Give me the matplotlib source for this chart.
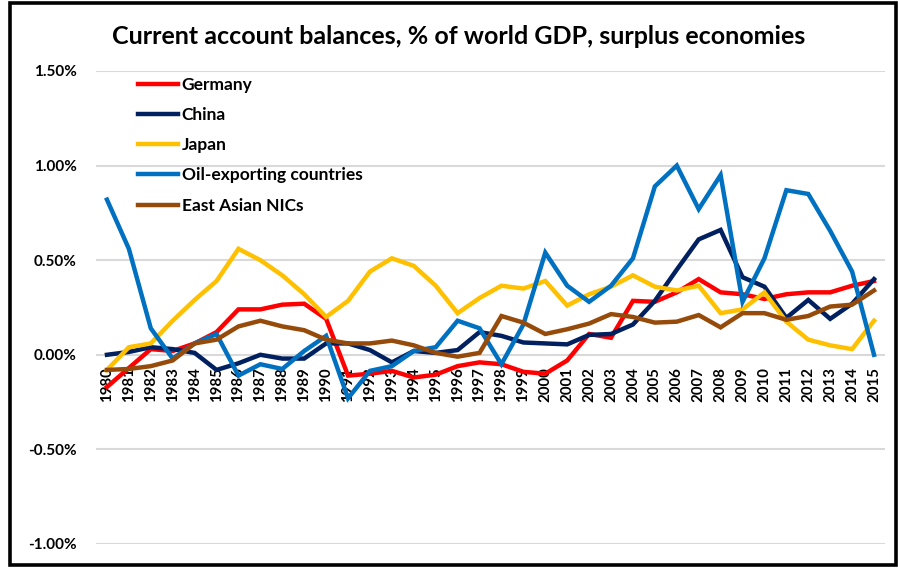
import numpy as np
import matplotlib
matplotlib.use("Agg")
import matplotlib.pyplot as plt
from matplotlib.patches import Rectangle
from matplotlib.ticker import FuncFormatter

years = np.arange(1980, 2016)

germany = [-0.17, -0.07, 0.03, 0.02, 0.06, 0.12, 0.24, 0.24, 0.265, 0.27,
           0.19, -0.11, -0.10, -0.085, -0.12, -0.105, -0.06, -0.04, -0.05, -0.09,
           -0.10, -0.03, 0.11, 0.09, 0.285, 0.28, 0.33, 0.40, 0.33, 0.32,
           0.295, 0.32, 0.33, 0.33, 0.365, 0.39]
china = [0.00, 0.015, 0.04, 0.03, 0.01, -0.08, -0.045, 0.00, -0.02, -0.02,
         0.06, 0.06, 0.025, -0.04, 0.02, 0.01, 0.025, 0.12, 0.10, 0.065,
         0.06, 0.055, 0.105, 0.11, 0.16, 0.285, 0.45, 0.61, 0.66, 0.41,
         0.36, 0.195, 0.29, 0.19, 0.27, 0.40]
japan = [-0.08, 0.04, 0.06, 0.18, 0.29, 0.39, 0.56, 0.50, 0.42, 0.32,
         0.20, 0.285, 0.44, 0.51, 0.47, 0.365, 0.22, 0.30, 0.365, 0.35,
         0.39, 0.26, 0.32, 0.36, 0.42, 0.36, 0.34, 0.365, 0.22, 0.24,
         0.33, 0.175, 0.08, 0.05, 0.03, 0.18]
oil = [0.82, 0.56, 0.14, -0.02, 0.06, 0.11, -0.11, -0.05, -0.075, 0.02,
       0.10, -0.23, -0.085, -0.06, 0.02, 0.04, 0.18, 0.14, -0.05, 0.16,
       0.54, 0.365, 0.28, 0.365, 0.51, 0.89, 1.00, 0.77, 0.95, 0.28,
       0.51, 0.87, 0.85, 0.655, 0.44, 0.00]
nics = [-0.08, -0.075, -0.06, -0.03, 0.06, 0.08, 0.15, 0.18, 0.15, 0.13,
        0.08, 0.06, 0.06, 0.075, 0.05, 0.01, -0.01, 0.01, 0.205, 0.17,
        0.11, 0.135, 0.165, 0.215, 0.20, 0.17, 0.175, 0.21, 0.145, 0.22,
        0.22, 0.185, 0.205, 0.255, 0.265, 0.34]

series = [
    ("Germany", germany, "#FF0000"),
    ("China", china, "#002060"),
    ("Japan", japan, "#FFC000"),
    ("Oil-exporting countries", oil, "#0070C0"),
    ("East Asian NICs", nics, "#964B0A"),
]

font = "Lato"

fig = plt.figure(figsize=(8.98, 5.68), dpi=100)
ax = fig.add_axes([0.1069, 0.0423, 0.8786, 0.8327])

for name, vals, col in series:
    ax.plot(years, vals, color=col, lw=3.2, label=name, solid_joinstyle="miter")

ax.set_xlim(1979.5, 2015.5)
ax.set_ylim(-1.0, 1.5)
ax.set_yticks([-1.0, -0.5, 0.0, 0.5, 1.0, 1.5])
ax.yaxis.set_major_formatter(FuncFormatter(lambda v, p: f"{v:.2f}%"))
ax.grid(axis="y", color="#d9d9d9", lw=1.5)
ax.set_axisbelow(True)

for s in ax.spines.values():
    s.set_visible(False)
ax.spines["bottom"].set_position(("data", 0))

ax.set_xticks(years)
ax.set_xticklabels([str(y) for y in years], rotation=90, fontweight="bold",
                   fontsize=10.8, family=font)
ax.tick_params(axis="x", length=0, pad=9)
ax.tick_params(axis="y", length=0, pad=14)
for lab in ax.get_yticklabels():
    lab.set_fontweight("bold")
    lab.set_fontsize(11)
    lab.set_family(font)

leg = ax.legend(loc="upper left", bbox_to_anchor=(0.034, 1.021), frameon=False,
                handlelength=2.25, handletextpad=0.23, labelspacing=0.82,
                prop={"family": font, "weight": "bold", "size": 12.5})

fig.text(0.5106, 0.935, "Current account balances, % of world GDP, surplus economies",
         ha="center", va="center", fontsize=18.0, fontweight="bold", family=font)

# black border around the whole chart
fig.patches.append(Rectangle((10 / 898, 3 / 568), 886 / 898, 562 / 568,
                             transform=fig.transFigure, fill=False,
                             edgecolor="black", lw=2.6))

fig.savefig("out.png", dpi=100)
